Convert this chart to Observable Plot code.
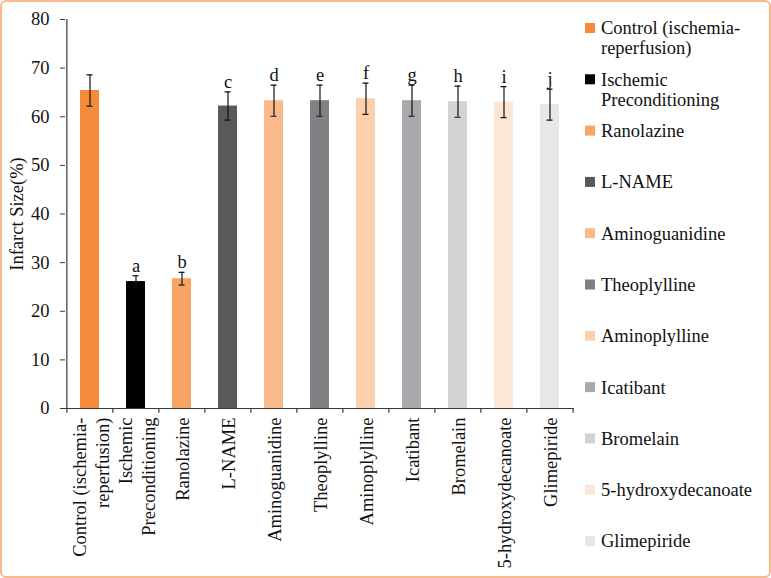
<!DOCTYPE html>
<html>
<head>
<meta charset="utf-8">
<script src="https://cdn.jsdelivr.net/npm/d3@7"></script>
<script src="https://cdn.jsdelivr.net/npm/@observablehq/plot@0.6"></script>
<style>
  html, body { margin: 0; padding: 0; background: #fff; }
  #frame {
    position: relative; width: 771px; height: 578px; box-sizing: border-box;
    border: 2px solid #F8BA8E; border-radius: 6px; overflow: hidden; background: #fff;
  }
  #chart { position: absolute; left: -2px; top: -2px; }
  #legend { position: absolute; left: 579px; top: -2px; }
</style>
</head>
<body>
<div id="frame">
  <div id="chart"></div>
  <div id="legend"></div>
</div>
<script>
const categories = ["Control (ischemia-reperfusion)", "Ischemic Preconditioning", "Ranolazine", "L-NAME", "Aminoguanidine", "Theoplylline", "Aminoplylline", "Icatibant", "Bromelain", "5-hydroxydecanoate", "Glimepiride"];
const tickLabels = ["Control (ischemia-\nreperfusion)", "Ischemic\nPreconditioning", "Ranolazine", "L-NAME", "Aminoguanidine", "Theoplylline", "Aminoplylline", "Icatibant", "Bromelain", "5-hydroxydecanoate", "Glimepiride"];
const legendLabels = ["Control (ischemia-\nreperfusion)", "Ischemic\nPreconditioning", "Ranolazine", "L-NAME", "Aminoguanidine", "Theoplylline", "Aminoplylline", "Icatibant", "Bromelain", "5-hydroxydecanoate", "Glimepiride"];
const values = [65.4, 26.1, 26.7, 62.2, 63.3, 63.3, 63.7, 63.3, 63.1, 63.0, 62.5];
const errors = [3.2, 1.2, 1.3, 2.9, 3.2, 3.2, 3.2, 3.2, 3.2, 3.2, 3.2];
const letters = ["", "a", "b", "c", "d", "e", "f", "g", "h", "i", "j"];
const colors = ["#F58A3B", "#000000", "#F7A464", "#58595B", "#F9B98A", "#808184", "#FCCFAD", "#A7A9AC", "#D1D3D4", "#FDE6D5", "#E6E7E8"];
const yTicks = [0, 10, 20, 30, 40, 50, 60, 70, 80];

const data = categories.map((c, i) => ({cat: c, v: values[i], e: errors[i], letter: letters[i], color: colors[i]}));
const labelOf = new Map(categories.map((c, i) => [c, tickLabels[i]]));

const W = 576, H = 580, mL = 65, mR = 2, mT = 19, mB = 172;
const step = (W - mL - mR) / categories.length;
const axisColor = "#3a3a3a";
const FS = 18.5;
const FONT = "Liberation Serif, serif";

const chart = Plot.plot({
  width: W, height: H,
  marginLeft: mL, marginRight: mR, marginTop: mT, marginBottom: mB,
  style: {fontFamily: FONT, fontSize: FS + "px", color: "#111", background: "transparent"},
  x: {domain: categories, paddingInner: 0.59, paddingOuter: 0.295},
  y: {domain: [0, 80]},
  color: {type: "identity"},
  marks: [
    Plot.barY(data, {x: "cat", y: "v", fill: "color"}),
    Plot.ruleX(data, {x: "cat", y1: d => d.v - d.e, y2: d => d.v + d.e, stroke: "#111", strokeWidth: 1.2}),
    Plot.tickY(data, {x: "cat", y: d => d.v + d.e, stroke: "#111", strokeWidth: 1.2, insetLeft: 6.5, insetRight: 6.5}),
    Plot.tickY(data, {x: "cat", y: d => d.v - d.e, stroke: "#111", strokeWidth: 1.2, insetLeft: 6.5, insetRight: 6.5}),
    Plot.text(data, {x: "cat", y: d => d.v + d.e, text: "letter", lineAnchor: "bottom", dy: -4, fontSize: FS, fill: "#111"}),
    Plot.ruleY([0], {stroke: axisColor, strokeWidth: 1.2}),
    Plot.ruleX([categories[0]], {dx: -step / 2, y1: 0, y2: 80, stroke: axisColor, strokeWidth: 1.2}),
    Plot.ruleX(categories, {dx: -step / 2, y1: 0, y2: -1, stroke: axisColor, strokeWidth: 1.2}),
    Plot.ruleX([categories[categories.length - 1]], {dx: step / 2, y1: 0, y2: -1, stroke: axisColor, strokeWidth: 1.2}),
    Plot.axisY({ticks: yTicks, tickSize: 5, tickPadding: 11, fontSize: FS, stroke: axisColor,
      label: "Infarct Size(%)", labelAnchor: "center", labelOffset: 56, labelArrow: "none"}),
    Plot.axisX({tickSize: 0, tickRotate: -90, tickPadding: 9, fontSize: FS, lineHeight: 1.22,
      tickFormat: d => labelOf.get(d), label: null})
  ]
});
document.getElementById("chart").appendChild(chart);

// Legend (SVG so the font matches the chart)
const svg = d3.select("#legend").append("svg")
  .attr("width", 190).attr("height", 580)
  .style("font-family", FONT).style("font-size", FS + "px");
const rows = svg.selectAll("g").data(categories).join("g")
  .attr("transform", (d, i) => `translate(0, ${28 + i * 51.3})`);
rows.append("rect").attr("x", 4).attr("y", -5).attr("width", 10).attr("height", 10)
  .attr("fill", (d, i) => colors[i]);
rows.append("text").attr("x", 20).attr("y", 0).attr("fill", "#111")
  .selectAll("tspan").data((d, i) => legendLabels[i].split("\n")).join("tspan")
  .attr("x", 20).attr("dy", (d, j) => j === 0 ? "0.35em" : "20px").text(d => d);
</script>
</body>
</html>
